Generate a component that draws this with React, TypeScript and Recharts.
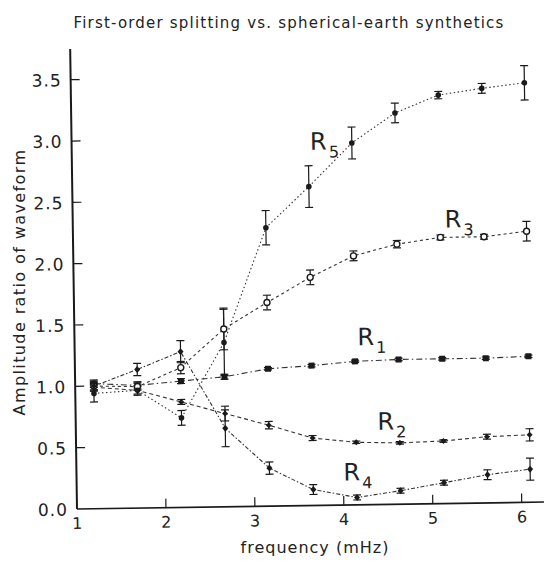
import React from 'react';
import { LineChart, Line, XAxis, YAxis, ErrorBar, ReferenceDot } from 'recharts';

const freq = [1.21, 1.7, 2.19, 2.68, 3.17, 3.66, 4.15, 4.64, 5.13, 5.62, 6.1];
const r1 = [1.02, 1.0, 1.03, 1.06, 1.12, 1.14, 1.17, 1.18, 1.18, 1.18, 1.19];
const r1Err = [0.03, 0.03, 0.02, 0.02, 0.01, 0.01, 0.01, 0.01, 0.01, 0.01, 0.01];
const r2 = [0.99, 0.96, 0.86, 0.76, 0.66, 0.55, 0.51, 0.5, 0.51, 0.54, 0.55];
const r2Err = [0.03, 0.03, 0.02, 0.06, 0.03, 0.02, 0.01, 0.01, 0.01, 0.02, 0.05];
const r3 = [1.0, 0.99, 1.14, 1.45, 1.66, 1.86, 2.03, 2.12, 2.17, 2.17, 2.21];
const r3Err = [0.03, 0.03, 0.05, 0.17, 0.06, 0.06, 0.04, 0.03, 0.02, 0.02, 0.08];
const r4 = [1.0, 1.13, 1.27, 0.64, 0.31, 0.13, 0.06, 0.11, 0.17, 0.23, 0.27];
const r4Err = [0.04, 0.05, 0.09, 0.15, 0.05, 0.04, 0.02, 0.02, 0.02, 0.04, 0.09];
const r5 = [0.94, 0.96, 0.73, 1.34, 2.27, 2.6, 2.95, 3.19, 3.33, 3.38, 3.42];
const r5Err = [0.07, 0.04, 0.06, 0.27, 0.14, 0.17, 0.13, 0.08, 0.03, 0.04, 0.14];

const xTicks = [1, 2, 3, 4, 5, 6];
const yTicks = [0, 0.5, 1.0, 1.5, 2.0, 2.5, 3.0, 3.5];

const titleText = 'First-order splitting vs. spherical-earth synthetics';
const xLabel = 'frequency (mHz)';
const yLabel = 'Amplitude ratio of waveform';

const seriesLabels = [
  { n: '5', x: 3.68, y: 2.9 },
  { n: '3', x: 5.18, y: 2.25 },
  { n: '1', x: 4.18, y: 1.3 },
  { n: '2', x: 4.39, y: 0.61 },
  { n: '4', x: 4.0, y: 0.2 },
];

const data = freq.map((f, i) => ({
  f,
  r1: r1[i], e1: r1Err[i],
  r2: r2[i], e2: r2Err[i],
  r3: r3[i], e3: r3Err[i],
  r4: r4[i], e4: r4Err[i],
  r5: r5[i], e5: r5Err[i],
}));

const FONT = '"DejaVu Sans", sans-serif';
const INK = '#1a1a1a';

const makeDot = (shape: string) => (p: any) => {
  const { cx, cy, index } = p;
  const k = `${shape}-${index}`;
  if (cx == null || cy == null) return <g key={k} />;
  switch (shape) {
    case 'square':
      return <rect key={k} x={cx - 3} y={cy - 3} width={6} height={6} fill={INK} />;
    case 'diamond':
      return <path key={k} d={`M${cx},${cy - 3.5}L${cx + 3},${cy}L${cx},${cy + 3.5}L${cx - 3},${cy}Z`} fill={INK} />;
    case 'small':
      return <path key={k} d={`M${cx},${cy - 3}L${cx + 3},${cy}L${cx},${cy + 3}L${cx - 3},${cy}Z`} fill={INK} />;
    case 'open':
      return <circle key={k} cx={cx} cy={cy} r={3} fill="#fff" stroke={INK} strokeWidth={1.4} />;
    default:
      return <circle key={k} cx={cx} cy={cy} r={2.8} fill={INK} />;
  }
};

const XTick = (p: any) => {
  const { x, y, payload } = p;
  return (
    <g>
      {payload.value !== 1 && <line x1={x} y1={y} x2={x} y2={y - 9} stroke={INK} strokeWidth={1.2} />}
      <text x={x} y={y + 20} textAnchor="middle" fontFamily={FONT} fontSize={16} fill="#222">
        {payload.value}
      </text>
    </g>
  );
};

const YTick = (p: any) => {
  const { x, y, payload } = p;
  return (
    <g>
      {payload.value !== 0 && <line x1={x} y1={y} x2={x + 9} y2={y} stroke={INK} strokeWidth={1.2} />}
      <text x={x - 9} y={y + 6.5} textAnchor="end" fontFamily={FONT} fontSize={17} letterSpacing={1} fill="#222">
        {Number(payload.value).toFixed(1)}
      </text>
    </g>
  );
};

const RLabel = (n: string) => (p: any) => {
  const vb = p.viewBox || {};
  const x = vb.x + (vb.width || 0) / 2;
  const y = vb.y + (vb.height || 0) / 2;
  return (
    <text x={x} y={y} fontFamily={FONT} fontSize={24} fill="#222">
      R
      <tspan fontSize={16} dx={2} dy={8}>{n}</tspan>
    </text>
  );
};

const lineCommon = {
  stroke: '#333',
  strokeWidth: 1.1,
  isAnimationActive: false,
  type: 'linear' as const,
};

export default function App() {
  return (
    <div style={{ position: 'absolute', left: 0, top: 0, width: 553, height: 561, background: '#fff' }}>
      <div
        style={{
          position: 'absolute',
          left: 0,
          top: 0,
          width: 553,
          height: 561,
          transform: 'rotate(-0.85deg)',
          transformOrigin: '77px 509px',
        }}
      >
        <LineChart width={553} height={561} data={data} margin={{ top: 49, right: 9, bottom: 0, left: 0 }}>
          <XAxis
            dataKey="f"
            type="number"
            domain={[1, 6.25]}
            ticks={xTicks}
            height={52}
            tickSize={0}
            tickMargin={0}
            tickLine={false}
            tick={<XTick />}
            axisLine={{ stroke: INK, strokeWidth: 1.6 }}
            interval={0}
          />
          <YAxis
            type="number"
            domain={[0, 3.75]}
            ticks={yTicks}
            width={77}
            tickSize={0}
            tickMargin={0}
            tickLine={false}
            tick={<YTick />}
            axisLine={{ stroke: INK, strokeWidth: 2 }}
            interval={0}
          />
          <Line dataKey="r1" {...lineCommon} strokeDasharray="6 3 1.5 3" dot={makeDot('square')}>
            <ErrorBar dataKey="e1" width={4} stroke={INK} strokeWidth={1.2} direction="y" isAnimationActive={false} />
          </Line>
          <Line dataKey="r2" {...lineCommon} strokeDasharray="4 3" dot={makeDot('small')}>
            <ErrorBar dataKey="e2" width={4} stroke={INK} strokeWidth={1.2} direction="y" isAnimationActive={false} />
          </Line>
          <Line dataKey="r3" {...lineCommon} strokeDasharray="3 3" dot={makeDot('open')}>
            <ErrorBar dataKey="e3" width={4} stroke={INK} strokeWidth={1.2} direction="y" isAnimationActive={false} />
          </Line>
          <Line dataKey="r4" {...lineCommon} strokeDasharray="4 2 1.5 2" dot={makeDot('diamond')}>
            <ErrorBar dataKey="e4" width={4} stroke={INK} strokeWidth={1.2} direction="y" isAnimationActive={false} />
          </Line>
          <Line dataKey="r5" {...lineCommon} strokeDasharray="1.5 2.5" dot={makeDot('circle')}>
            <ErrorBar dataKey="e5" width={4} stroke={INK} strokeWidth={1.2} direction="y" isAnimationActive={false} />
          </Line>
          {seriesLabels.map((s) => (
            <ReferenceDot
              key={s.n}
              x={s.x}
              y={s.y}
              r={1}
              fill="none"
              stroke="none"
              ifOverflow="visible"
              label={RLabel(s.n)}
            />
          ))}
        </LineChart>
      </div>
      <svg
        width={553}
        height={561}
        style={{ position: 'absolute', left: 0, top: 0, pointerEvents: 'none' }}
      >
        <text x={289} y={28} textAnchor="middle" fontFamily={FONT} fontSize={15} letterSpacing={1.2} fill="#222">
          {titleText}
        </text>
        <text x={315} y={553} textAnchor="middle" fontFamily={FONT} fontSize={16} letterSpacing={1} fill="#222">
          {xLabel}
        </text>
        <text
          x={25}
          y={282}
          textAnchor="middle"
          fontFamily={FONT}
          fontSize={16}
          letterSpacing={1.4}
          fill="#222"
          transform="rotate(-90 25 282)"
        >
          {yLabel}
        </text>
      </svg>
    </div>
  );
}
